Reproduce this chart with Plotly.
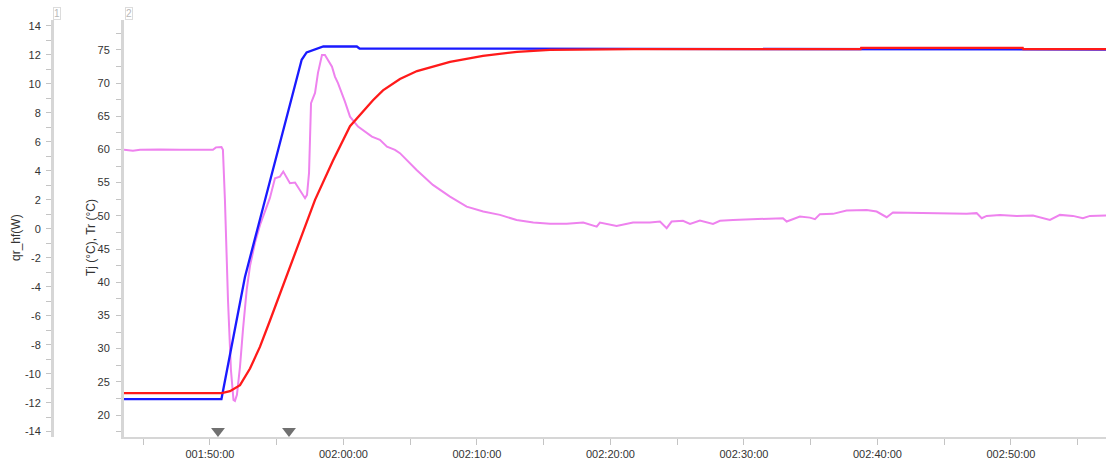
import plotly.graph_objects as go

# ---- data (time in minutes of elapsed run time) ----
tick_minutes = [110, 120, 130, 140, 150, 160, 170]
tick_labels = ["001:50:00", "002:00:00", "002:10:00", "002:20:00",
               "002:30:00", "002:40:00", "002:50:00"]

qr_tick_vals = [-14, -12, -10, -8, -6, -4, -2, 0, 2, 4, 6, 8, 10, 12, 14]
qr_tick_text = ["-14", "-12", "-10", "-8", "-6", "-4", "-2", "0",
                "2", "4", "6", "8", "10", "12", "14"]

tj_time = [103.56, 110.86, 112.62, 116.87, 117.24, 117.99, 118.49, 121.00, 121.20, 177.12]
tj_vals = [22.4, 22.4, 40.8, 73.5, 74.6, 75.1, 75.5, 75.5, 75.2, 75.05]

tr_time = [103.56, 110.88, 111.50, 112.25, 113.00, 113.75, 114.49, 115.24, 115.99,
           116.74, 117.87, 119.21, 120.49, 122.21, 122.96, 124.23, 125.51, 127.98,
           130.45, 133.00, 135.47, 141.69, 158.74, 158.78, 170.88, 170.92, 177.12]
tr_vals = [23.3, 23.3, 23.6, 24.5, 27.0, 30.3, 34.2, 38.3, 42.4,
           46.4, 52.4, 58.3, 63.5, 67.4, 68.9, 70.6, 71.8, 73.2,
           74.1, 74.7, 75.0, 75.1, 75.1, 75.3, 75.3, 75.1, 75.1]

qr_time = [103.56, 104.23, 104.76, 106.25, 107.75, 109.25, 110.22, 110.45, 110.86, 110.97,
           111.12, 111.35, 111.57, 111.76, 111.87, 112.02, 112.25, 112.47, 112.75, 113.00,
           113.37, 113.75, 114.12, 114.49, 114.87, 115.24, 115.49, 115.69, 115.99, 116.37,
           116.74, 116.97, 117.12, 117.27, 117.42, 117.57, 117.87, 118.09, 118.39, 118.61,
           118.84, 119.14, 119.36, 119.59, 120.11, 120.49, 121.09, 121.61, 122.13, 122.73,
           123.26, 123.86, 124.23, 125.48, 126.70, 127.98, 129.23, 130.47, 131.72, 132.97,
           134.22, 135.47, 136.72, 137.96, 138.97, 139.21, 140.46, 141.69, 142.96, 143.71,
           144.21, 144.58, 145.43, 145.96, 146.70, 147.68, 148.20, 149.18, 150.45, 151.70,
           152.92, 153.20, 154.19, 154.94, 155.32, 155.69, 156.67, 157.69, 159.19, 159.94,
           160.69, 161.16, 162.94, 164.16, 166.68, 167.43, 167.81, 168.18, 169.18, 170.43,
           171.65, 172.92, 173.67, 174.64, 175.39, 175.92, 177.12]
qr_vals = [5.45, 5.38, 5.45, 5.48, 5.45, 5.45, 5.45, 5.62, 5.65, 5.45,
           2.00, -4.91, -9.74, -11.81, -11.88, -11.46, -9.51, -6.98, -4.22, -2.56,
           -0.97, 0.27, 1.19, 2.13, 3.49, 3.60, 3.95, 3.65, 3.15, 3.19,
           2.68, 2.27, 2.11, 2.34, 3.86, 8.67, 9.38, 10.76, 12.00, 12.00,
           11.66, 11.19, 10.50, 10.05, 8.78, 7.74, 7.05, 6.71, 6.36, 6.14,
           5.67, 5.45, 5.22, 4.06, 3.03, 2.22, 1.53, 1.19, 0.96, 0.61,
           0.43, 0.34, 0.34, 0.43, 0.15, 0.43, 0.20, 0.43, 0.43, 0.50,
           0.04, 0.50, 0.55, 0.34, 0.57, 0.34, 0.55, 0.61, 0.66, 0.73,
           0.73, 0.50, 0.84, 0.77, 0.66, 1.01, 1.03, 1.26, 1.30, 1.19,
           0.80, 1.12, 1.08, 1.08, 1.03, 1.08, 0.73, 0.89, 0.96, 0.89,
           0.91, 0.61, 0.96, 0.89, 0.73, 0.89, 0.91]

event_time = [110.60, 115.92]

# ---- styling ----
W, H = 1106, 463
PLOT_L = 124
AX1_X = 52
FONT = "Liberation Sans, Arial, sans-serif"
TXT = "#333333"
LINEC = "#d6d6d6"
TICKC = "#c4c4c4"
MARK_Y = 17.6  # just above x axis, in T units

fig = go.Figure()

fig.add_trace(go.Scatter(x=qr_time, y=qr_vals, mode="lines", yaxis="y",
                         line=dict(color="#ee82ee", width=2), name="qr_hf"))
fig.add_trace(go.Scatter(x=tj_time, y=tj_vals, mode="lines", yaxis="y2",
                         line=dict(color="#1a1aff", width=2.3), name="Tj"))
fig.add_trace(go.Scatter(x=tr_time, y=tr_vals, mode="lines", yaxis="y2",
                         line=dict(color="#ff1a1a", width=2.3), name="Tr"))
fig.add_trace(go.Scatter(x=event_time, y=[MARK_Y] * len(event_time), mode="markers",
                         yaxis="y2", cliponaxis=False,
                         marker=dict(symbol="triangle-down", size=12, color="#707070"),
                         name="events"))

fig.update_layout(
    width=W, height=H,
    margin=dict(l=0, r=0, t=20, b=26),
    paper_bgcolor="white", plot_bgcolor="white",
    showlegend=False,
    font=dict(family=FONT, size=11, color=TXT),
    xaxis=dict(domain=[PLOT_L / W, 1], range=[103.56, 177.12],
               tickmode="array", tickvals=tick_minutes, ticktext=tick_labels,
               ticks="outside", ticklen=6, tickcolor=TICKC, tickwidth=1,
               minor=dict(ticks="outside", dtick=5, tick0=0, ticklen=6, tickcolor=TICKC),
               showline=True, linecolor=LINEC, linewidth=2,
               showgrid=False, zeroline=False, ticklabelstandoff=0,
               tickfont=dict(size=11, color=TXT, family=FONT)),
    yaxis=dict(anchor="free", position=AX1_X / W, side="left",
               range=[-14.37, 14.41], tickmode="array",
               tickvals=qr_tick_vals, ticktext=qr_tick_text,
               ticks="outside", ticklen=5, tickcolor=TICKC,
               minor=dict(ticks="outside", dtick=1, tick0=0, ticklen=5, tickcolor=TICKC),
               showline=True, linecolor=LINEC, linewidth=3,
               showgrid=False, zeroline=False, ticklabelstandoff=3,
               tickfont=dict(size=11, color=TXT, family=FONT)),
    yaxis2=dict(anchor="x", overlaying="y", side="left",
                range=[16.69, 79.49], tickmode="linear", tick0=0, dtick=5,
                ticks="outside", ticklen=5, tickcolor=TICKC,
                minor=dict(ticks="outside", dtick=2.5, tick0=0, ticklen=5, tickcolor=TICKC),
                showline=True, linecolor=LINEC, linewidth=3,
                showgrid=False, zeroline=False, ticklabelstandoff=4,
                tickfont=dict(size=11, color=TXT, family=FONT)),
)

plot_h = H - 20 - 26
def ypaper(py):
    return (H - 26 - py) / plot_h

fig.add_annotation(text="qr_hf(W)", textangle=-90, xref="paper", yref="paper",
                   x=16 / W, y=ypaper(238), xanchor="center", yanchor="middle",
                   showarrow=False, font=dict(size=12, color=TXT, family=FONT))
fig.add_annotation(text="Tj (°C), Tr (°C)", textangle=-90, xref="paper", yref="paper",
                   x=91 / W, y=ypaper(238), xanchor="center", yanchor="middle",
                   showarrow=False, font=dict(size=12, color=TXT, family=FONT))
for lbl, px in (("1", 57), ("2", 129)):
    fig.add_annotation(text=lbl, xref="paper", yref="paper", x=px / W, y=ypaper(13),
                       xanchor="center", yanchor="middle",
                       showarrow=False, bordercolor="#dcdcdc", borderwidth=1, borderpad=0,
                       font=dict(size=10, color="#b8b8b8", family=FONT))

fig.write_html("out.html", config={"displayModeBar": False},
               post_script="document.body.style.margin='0';document.body.style.padding='0';")
